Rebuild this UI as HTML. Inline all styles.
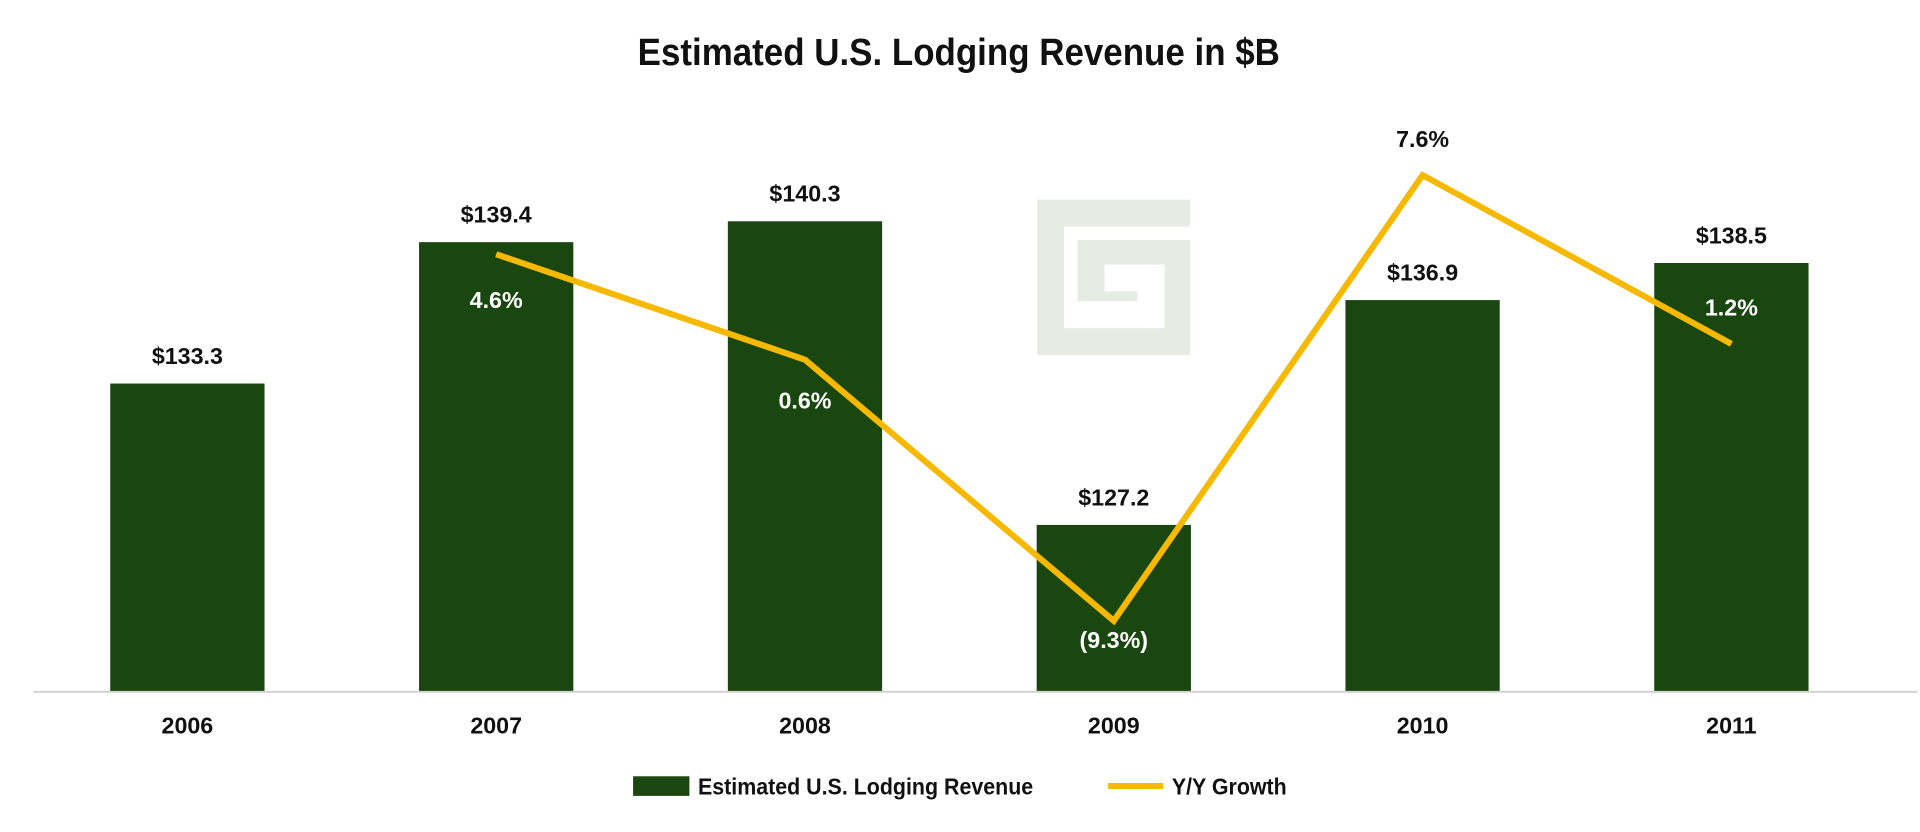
<!DOCTYPE html>
<html><head><meta charset="utf-8"><style>
body{margin:0;background:#fff;}
svg{display:block;font-family:"Liberation Sans",sans-serif;}
</style></head><body>
<svg id="chart" width="1920" height="832" viewBox="0 0 1568 679.5">
<text x="783" y="53" text-anchor="middle" font-size="31" font-weight="bold" fill="#111" transform="translate(783,0) scale(0.92,1) translate(-783,0)">Estimated U.S. Lodging Revenue in $B</text>
<g fill="#e6ebe4">
<path d="M847,163 H972 V185 H869 V268 H951 V216 H902 V238 H929 V246 H880 V196 H972 V290 H847 Z"/>
</g>
<g id="bars"></g>
<line x1="27" y1="565" x2="1566" y2="565" stroke="#d0d0d0" stroke-width="1.5"/>
<g id="line"></g>
<g id="labels"></g>
<g>
<rect x="517" y="634" width="46" height="16" fill="#1a4710"/>
<text x="570" y="649" font-size="19" font-weight="bold" fill="#111" transform="translate(570,0) scale(0.92,1) translate(-570,0)">Estimated U.S. Lodging Revenue</text>
<line x1="905" y1="642" x2="950" y2="642" stroke="#f7b900" stroke-width="5"/>
<text x="957" y="649" font-size="19" font-weight="bold" fill="#111" transform="translate(957,0) scale(0.92,1) translate(-957,0)">Y/Y Growth</text>
</g>
</svg>
<script>
const categories = ["2006","2007","2008","2009","2010","2011"];
const revenue = [133.3,139.4,140.3,127.2,136.9,138.5];
const growth = [null,4.6,0.6,-9.3,7.6,1.2];
const growthLabels = [null,"4.6%","0.6%","(9.3%)","7.6%","1.2%"];
const growthLabelOffset = [0,44,40,22,-23,-23];
const NS="http://www.w3.org/2000/svg";
function xPos(i){return 153+i*252.2;}
function yBar(v){return 565-(v-120)*18.93;}
function yLine(v){return 306.7-v*21.54;}
function mk(tag,attrs,parent,text){const e=document.createElementNS(NS,tag);for(const k in attrs)e.setAttribute(k,attrs[k]);if(text!==undefined)e.textContent=text;parent.appendChild(e);return e;}
const gb=document.getElementById('bars'),gl=document.getElementById('line'),gt=document.getElementById('labels');
categories.forEach((c,i)=>{
  const top=yBar(revenue[i]);
  const r=mk('rect',{x:xPos(i)-63,y:top,width:126,height:565-top,fill:'#1a4710'},gb);
  
  
  const t=mk('text',{x:xPos(i),y:top-16,'text-anchor':'middle','font-size':19,'font-weight':'bold',fill:'#111'},gt,'$'+revenue[i].toFixed(1));
  
  
  const a=mk('text',{x:xPos(i),y:599,'text-anchor':'middle','font-size':19,'font-weight':'bold',fill:'#111'},gt,c);
  
  
});
let pts=[];
growth.forEach((g,i)=>{if(g!==null)pts.push(xPos(i)+','+yLine(g));});
const pl=mk('polyline',{points:pts.join(' '),fill:'none',stroke:'#f7b900','stroke-width':5,'stroke-linejoin':'miter'},gl);


growth.forEach((g,i)=>{
  if(g===null)return;
  const ly=yLine(g)+growthLabelOffset[i];
  const onBar=ly-7>yBar(revenue[i]);
  const t=mk('text',{x:xPos(i),y:ly,'text-anchor':'middle','font-size':19,'font-weight':'bold',fill:onBar?'#fff':'#111'},gt,growthLabels[i]);
  
  
});
</script>
</body></html>
